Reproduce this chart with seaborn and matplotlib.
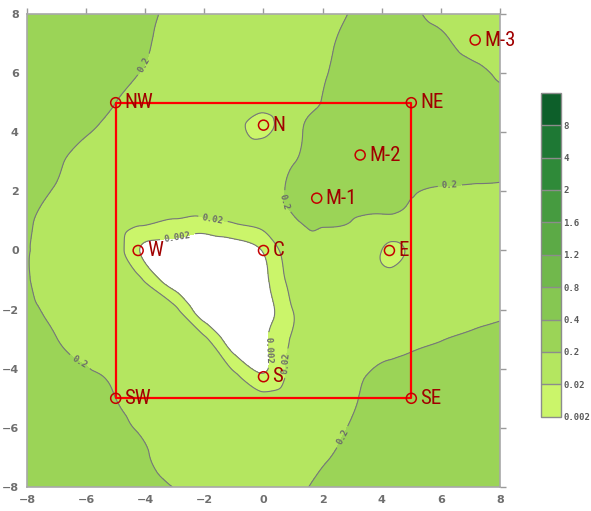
import numpy as np
import pandas as pd
import matplotlib
matplotlib.use("Agg")
import matplotlib.pyplot as plt
import matplotlib.tri as mtri
from matplotlib import font_manager as fm
import seaborn as sns

# ---- sampling grid (node coordinates) -------------------------------------
grid_x = [-8, -7, -6, -5, -4.25, -3, -2, -1, 0, 1, 2, 3, 4.25, 5, 6, 7, 8]
grid_y = [8, 7, 6, 5, 4.25, 3, 2, 1, 0, -1, -2, -3, -4.25, -5, -6, -7, -8]

# ---- concentration at each node, one list per row (top row first) ----------
row_p8 = [0.32, 0.32, 0.30, 0.28, 0.25, 0.16, 0.11, 0.10, 0.10, 0.11, 0.15, 0.21, 0.28, 0.24, 0.15, 0.13, 0.12]
row_p7 = [0.32, 0.32, 0.30, 0.275, 0.23, 0.148, 0.10, 0.089, 0.089, 0.10, 0.166, 0.24, 0.30, 0.28, 0.24, 0.15, 0.14]
row_p6 = [0.32, 0.32, 0.295, 0.26, 0.204, 0.112, 0.079, 0.071, 0.071, 0.10, 0.186, 0.26, 0.32, 0.32, 0.30, 0.26, 0.166]
row_p5 = [0.32, 0.30, 0.25, 0.20, 0.126, 0.079, 0.063, 0.05, 0.045, 0.089, 0.209, 0.30, 0.32, 0.32, 0.32, 0.30, 0.28]
row_p4 = [0.32, 0.295, 0.24, 0.145, 0.10, 0.063, 0.05, 0.035, 0.0126, 0.10, 0.27, 0.32, 0.32, 0.32, 0.32, 0.32, 0.32]
row_p3 = [0.30, 0.24, 0.112, 0.079, 0.063, 0.05, 0.045, 0.05, 0.089, 0.19, 0.32, 0.32, 0.32, 0.32, 0.32, 0.32, 0.32]
row_p2 = [0.275, 0.174, 0.089, 0.063, 0.05, 0.038, 0.035, 0.042, 0.079, 0.27, 0.32, 0.30, 0.28, 0.209, 0.182, 0.17, 0.158]
row_p1 = [0.25, 0.112, 0.071, 0.045, 0.035, 0.0166, 0.014, 0.025, 0.05, 0.17, 0.25, 0.198, 0.126, 0.132, 0.132, 0.126, 0.12]
row_00 = [0.209, 0.10, 0.063, 0.063, 0.0025, 0.00032, 0.00025, 0.0004, 0.0025, 0.079, 0.10, 0.141, 0.0135, 0.035, 0.126, 0.132, 0.138]
row_m1 = [0.219, 0.10, 0.056, 0.035, 0.035, 0.00032, 0.00025, 0.00025, 0.001, 0.045, 0.089, 0.105, 0.045, 0.10, 0.126, 0.141, 0.158]
row_m2 = [0.25, 0.138, 0.071, 0.05, 0.035, 0.032, 0.00032, 0.00025, 0.00063, 0.021, 0.063, 0.10, 0.112, 0.126, 0.141, 0.158, 0.178]
row_m3 = [0.28, 0.204, 0.10, 0.063, 0.05, 0.035, 0.032, 0.00032, 0.001, 0.025, 0.056, 0.089, 0.141, 0.158, 0.195, 0.224, 0.25]
row_m4 = [0.32, 0.30, 0.24, 0.151, 0.089, 0.056, 0.04, 0.035, 0.0025, 0.05, 0.071, 0.141, 0.25, 0.28, 0.28, 0.30, 0.32]
row_m5 = [0.32, 0.32, 0.26, 0.20, 0.126, 0.079, 0.056, 0.05, 0.05, 0.063, 0.10, 0.178, 0.28, 0.30, 0.32, 0.32, 0.32]
row_m6 = [0.32, 0.32, 0.30, 0.25, 0.19, 0.12, 0.089, 0.079, 0.079, 0.10, 0.126, 0.224, 0.30, 0.32, 0.32, 0.32, 0.32]
row_m7 = [0.32, 0.32, 0.30, 0.275, 0.23, 0.148, 0.112, 0.10, 0.10, 0.12, 0.174, 0.275, 0.32, 0.32, 0.32, 0.32, 0.32]
row_m8 = [0.32, 0.32, 0.32, 0.30, 0.26, 0.195, 0.141, 0.12, 0.12, 0.151, 0.25, 0.30, 0.32, 0.32, 0.32, 0.32, 0.32]

# ---- monitoring points ------------------------------------------------------
station_names = ["NW", "NE", "SE", "SW", "N", "M-1", "M-2", "M-3", "C", "W", "E", "S"]
station_x = [-5, 5, 5, -5, 0, 1.8, 3.27, 7.16, 0, -4.24, 4.26, 0]
station_y = [5, 5, -5, -5, 4.24, 1.77, 3.23, 7.12, 0, 0, 0, -4.27]

# ---- contour levels / colour legend ----------------------------------------
levels = [0.002, 0.02, 0.2, 0.4, 0.8, 1.2, 1.6, 2, 4, 8, 16]
level_labels = ["0.002", "0.02", "0.2", "0.4", "0.8", "1.2", "1.6", "2", "4", "8"]
fill_colors = ["#cbf56a", "#b4e660", "#9bd457", "#86c752", "#71b84c", "#5caa46",
               "#469b40", "#2f8a39", "#1e7834", "#0d5f2a"]

sns.set_theme(style="white")
plt.rcParams["font.family"] = ["DejaVu Sans"]

avail = {f.name for f in fm.fontManager.ttflist}
label_family = next((f for f in ["Liberation Sans Narrow", "Roboto Condensed",
                                 "Open Sans Condensed", "Liberation Sans"] if f in avail),
                    "DejaVu Sans")
mono_family = "DejaVu Sans Mono" if "DejaVu Sans Mono" in avail else "monospace"

rows = [row_p8, row_p7, row_p6, row_p5, row_p4, row_p3, row_p2, row_p1, row_00,
        row_m1, row_m2, row_m3, row_m4, row_m5, row_m6, row_m7, row_m8]
conc = np.array(rows, dtype=float)
gx, gy = np.meshgrid(np.array(grid_x, float), np.array(grid_y, float))

# triangulate the rectilinear node grid; inside the low-concentration pocket the
# cell diagonals follow its south-west edge, elsewhere the opposite diagonal
nx, ny = len(grid_x), len(grid_y)
tris = []
for i in range(ny - 1):
    for j in range(nx - 1):
        k = i * nx + j
        pocket = (grid_x[j] >= -5 and grid_x[j + 1] <= 1 and
                  grid_y[i + 1] >= -5 and grid_y[i] <= 1)
        if pocket:
            tris.append([k, k + nx + 1, k + nx])
            tris.append([k, k + 1, k + nx + 1])
        else:
            tris.append([k, k + 1, k + nx])
            tris.append([k + 1, k + nx + 1, k + nx])
tri = mtri.Triangulation(gx.ravel(), gy.ravel(), np.array(tris))
logc = np.log10(conc.ravel())
interp = mtri.CubicTriInterpolator(tri, logc, kind="min_E")
refiner = mtri.UniformTriRefiner(tri)
tri_f, logc_f = refiner.refine_field(logc, triinterpolator=interp, subdiv=4)

log_levels = np.log10(levels)

fig = plt.figure(figsize=(5.91, 5.11), dpi=100)
ax = fig.add_axes([0.0457, 0.047, 0.8003, 0.9256])
cax = fig.add_axes([0.9154, 0.1845, 0.0338, 0.634])
ax.set_facecolor("white")

filled = ax.tricontourf(tri_f, logc_f, levels=log_levels, colors=fill_colors, zorder=1)
lines = ax.tricontour(tri_f, logc_f, levels=log_levels[:3], colors="#76767a",
                      linewidths=0.8, linestyles="solid",
                      negative_linestyles="solid", zorder=2)

fmt = {lv: txt for lv, txt in zip(log_levels[:3], level_labels[:3])}
label_spots = [(-4.0, 6.27), (-6.31, -3.94), (0.83, 1.7), (6.31, 2.05), (2.66, -6.3),
               (-1.7, 1.15), (0.63, -3.8), (-2.9, 0.42), (0.12, -3.37)]
texts = lines.clabel(lines.levels, inline=True, fmt=fmt, manual=label_spots,
                     fontsize=6.5, colors="#6a6a6a")
for t in texts:
    t.set_fontfamily(mono_family)
    t.set_fontweight("bold")

# monitoring points and the boundary square through the four corner points
st = pd.DataFrame({"name": station_names, "x": station_x, "y": station_y})
corner = st.set_index("name").loc[["NW", "NE", "SE", "SW", "NW"]]
ax.plot(corner["x"], corner["y"], color="#ff0000", lw=1.6, zorder=4)
sns.scatterplot(data=st, x="x", y="y", ax=ax, marker="o", s=52, color="none",
                edgecolor="#c40000", linewidth=1.1, zorder=5, legend=False)
for _, r in st.iterrows():
    ax.text(r["x"] + 0.3, r["y"], r["name"], color="#a00000", fontsize=15,
            family=label_family, va="center", ha="left", zorder=6)

ax.set_xlim(-8, 8)
ax.set_ylim(-8, 8)
ax.set_xticks(range(-8, 9, 2))
ax.set_yticks(range(-8, 9, 2))
ax.set_xlabel("")
ax.set_ylabel("")
ax.tick_params(direction="out", length=4, width=1, color="#9a9a9a", top=True,
               right=True, labeltop=False, labelright=False, labelsize=8,
               labelcolor="#6e6e6e", pad=2)
for lab in ax.get_xticklabels() + ax.get_yticklabels():
    lab.set_fontweight("bold")
for sp in ax.spines.values():
    sp.set_color("#a8a8a8")
    sp.set_linewidth(1.2)

cb = fig.colorbar(filled, cax=cax, spacing="uniform", drawedges=True,
                  ticks=log_levels[:10])
cb.ax.set_yticklabels(level_labels)
cb.outline.set_edgecolor("#8c8c8c")
cb.outline.set_linewidth(1.0)
cb.dividers.set_color("#8c8c8c")
cb.dividers.set_linewidth(1.0)
cb.ax.tick_params(length=0, pad=1.5, labelsize=6.5, labelcolor="#5a5a5a")
for lab in cb.ax.get_yticklabels():
    lab.set_fontfamily(mono_family)
    lab.set_fontweight("bold")

fig.savefig("out.png", dpi=100)
